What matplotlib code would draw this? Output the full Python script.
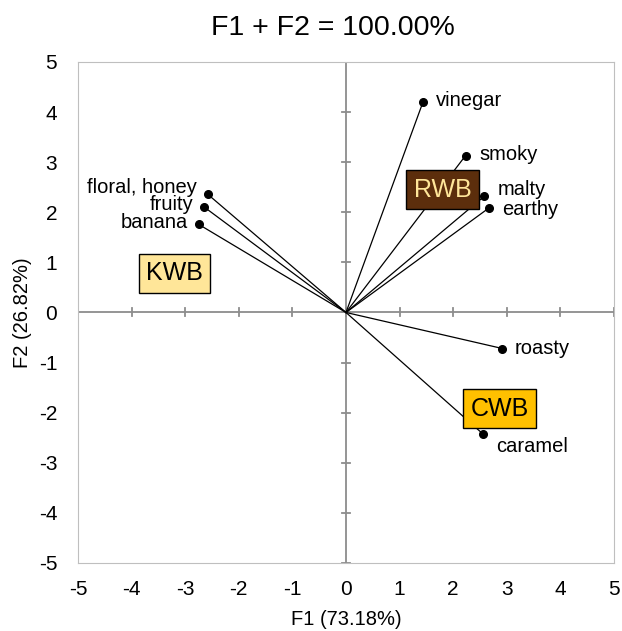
import matplotlib.pyplot as plt

plt.rcParams['font.family'] = ['Liberation Sans', 'DejaVu Sans']
plt.rcParams['axes.unicode_minus'] = False

# variable loadings on F1/F2
names = ["vinegar", "smoky", "malty", "earthy", "floral, honey", "fruity", "banana", "roasty", "caramel"]
f1 = [1.44, 2.23, 2.58, 2.66, -2.58, -2.64, -2.75, 2.92, 2.55]
f2 = [4.21, 3.13, 2.32, 2.08, 2.36, 2.10, 1.76, -0.72, -2.42]

# sample observations
samples = ["KWB", "RWB", "CWB"]
s1 = [-3.20, 1.80, 2.87]
s2 = [0.78, 2.45, -1.92]
box_colors = ["#FFE699", "#5C2E0C", "#FFC000"]
text_colors = ["black", "#FFE699", "black"]

ticks = [-5, -4, -3, -2, -1, 0, 1, 2, 3, 4, 5]

fig = plt.figure(figsize=(6.22, 6.31), dpi=100)
ax = fig.add_axes([0.1254, 0.1078, 0.8617, 0.794])

ax.set_xlim(-5, 5)
ax.set_ylim(-5, 5)
ax.set_xticks(ticks)
ax.set_yticks(ticks)
ax.tick_params(axis="y", length=0, labelsize=15, pad=15)
ax.tick_params(axis="x", length=0, labelsize=15, pad=12)
for s in ax.spines.values():
    s.set_color("#BFBFBF")

# zero axes with small cross ticks
gc = "#8C8C8C"
ax.axhline(0, color=gc, lw=1.3, zorder=1)
ax.axvline(0, color=gc, lw=1.3, zorder=1)
for t in ticks:
    ax.plot([t, t], [-0.08, 0.08], color=gc, lw=1.3, zorder=1)
    ax.plot([-0.08, 0.08], [t, t], color=gc, lw=1.3, zorder=1)

for n, x, y in zip(names, f1, f2):
    ax.plot([0, x], [0, y], color="black", lw=0.9, zorder=2)
    ax.plot(x, y, "o", color="black", ms=5.5, zorder=3)

offsets = {
    "vinegar": (9, 1, "left"),
    "smoky": (10, 1, "left"),
    "malty": (10, 5, "left"),
    "earthy": (10, -1, "left"),
    "floral, honey": (-8, 5, "right"),
    "fruity": (-8, 2, "right"),
    "banana": (-8, 1, "right"),
    "roasty": (9, 0, "left"),
    "caramel": (10, -9, "left"),
}
for n, x, y in zip(names, f1, f2):
    dx, dy, ha = offsets[n]
    ax.annotate(n, (x, y), xytext=(dx, dy), textcoords="offset points",
                ha=ha, va="center", fontsize=14.5, zorder=4)

for n, x, y, bc, tc in zip(samples, s1, s2, box_colors, text_colors):
    ax.text(x, y, n, ha="center", va="center", fontsize=18, color=tc, zorder=5,
            bbox=dict(boxstyle="square,pad=0.3", fc=bc, ec="black", lw=1))

fig.text(333 / 622, 1 - 28 / 631, "F1 + F2 = 100.00%", fontsize=20.5, ha="center", va="center")
ax.set_xlabel("F1 (73.18%)", fontsize=14.5, labelpad=8)
ax.set_ylabel("F2 (26.82%)", fontsize=14.5, labelpad=5)

fig.savefig("out.png", dpi=100)
